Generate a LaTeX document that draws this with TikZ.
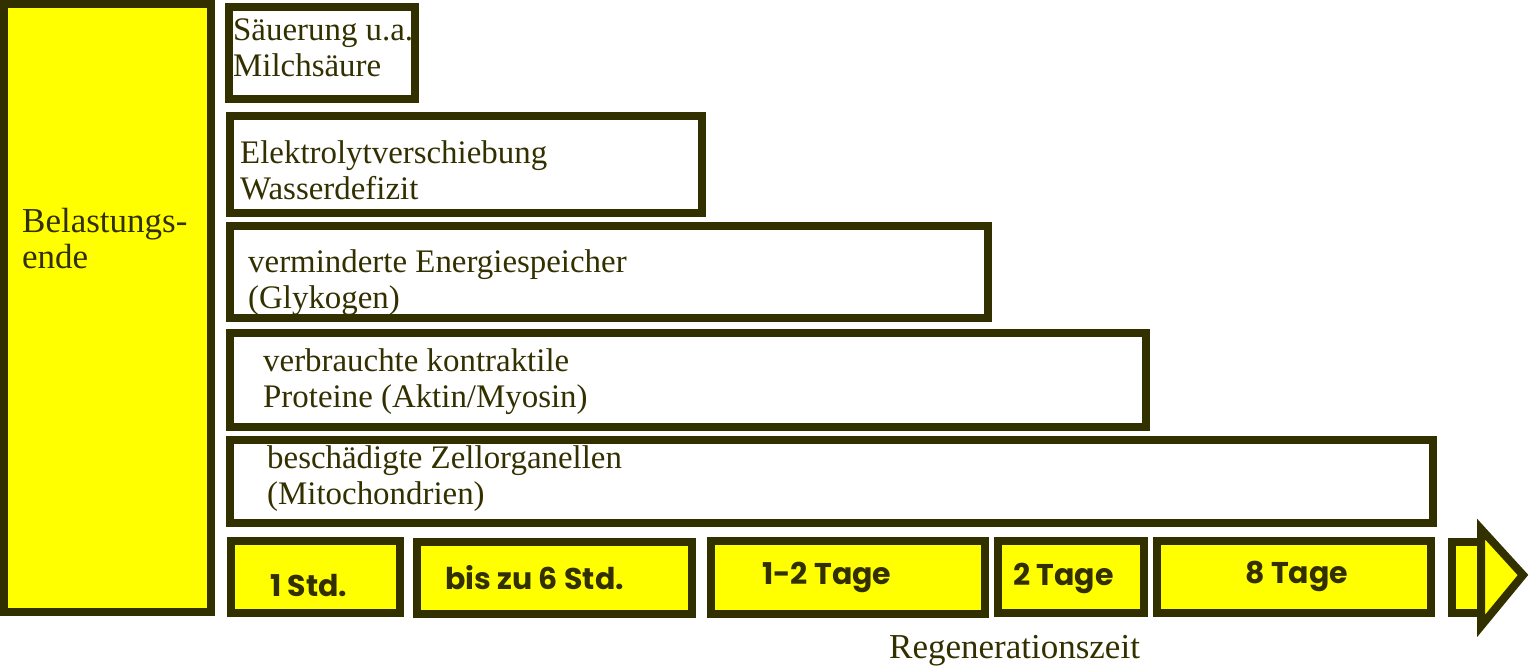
\documentclass[tikz,border=0pt]{standalone}
\usepackage{fontspec}
\setmainfont{Liberation Serif}
\newfontfamily\tagfont{Poppins}
\usepackage{tikz}
\definecolor{olive}{RGB}{51,48,0}
\definecolor{gelb}{RGB}{255,255,0}

\begin{document}
\begin{tikzpicture}[x=1pt,y=-1pt,line join=miter,
	box/.style={draw=olive,line width=8pt,fill=white,inner sep=0,outer sep=0},
	gelbbox/.style={box,fill=gelb},
	txt/.style={anchor=base west,inner sep=0,align=left,text=olive,font=\fontsize{32.9}{36}\selectfont},
	groesser/.style={txt,font=\fontsize{35}{36}\selectfont},
	tag/.style={anchor=base west,inner sep=0,text=olive,font=\tagfont\bfseries\fontsize{30}{32}\selectfont}]
	\useasboundingbox (0,0) rectangle (1529,667);
	\node[gelbbox,minimum width=207,minimum height=608] (ende) at (107.5,308) {};
	\node[box,minimum width=186,minimum height=92] (saeure) at (322,53) {};
	\node[box,minimum width=472,minimum height=97] (elektro) at (466,164.5) {};
	\node[box,minimum width=758,minimum height=92] (energie) at (609,272) {};
	\node[box,minimum width=916,minimum height=94] (protein) at (688,380) {};
	\node[box,minimum width=1203,minimum height=83] (zell) at (831.5,481.5) {};
	\node[gelbbox,minimum width=169,minimum height=72] (t1) at (315.5,577) {};
	\node[gelbbox,minimum width=275,minimum height=72] (t2) at (554.5,578) {};
	\node[gelbbox,minimum width=274,minimum height=73] (t3) at (848,577.5) {};
	\node[gelbbox,minimum width=146,minimum height=72] (t4) at (1071,577) {};
	\node[gelbbox,minimum width=274,minimum height=72] (t5) at (1294,577) {};
	\node[gelbbox,minimum width=29,minimum height=71] (schaft) at (1466.5,577.5) {};
	\draw[draw=olive,fill=gelb,line width=8pt] (1481,529) -- (1523,575) -- (1481,626) -- cycle;
	% Texte: Anker auf der Grundlinie der letzten Zeile
	\node[groesser] (ende-txt) at (22,268) {Belastungs-\\ende};
	\node[txt] (saeure-txt) at (233,76) {Säuerung u.a.\\Milchsäure};
	\node[txt] (elektro-txt) at (240,199) {Elektrolytverschiebung\\Wasserdefizit};
	\node[txt] (energie-txt) at (248,308) {verminderte Energiespeicher\\(Glykogen)};
	\node[txt] (protein-txt) at (263,407) {verbrauchte kontraktile\\Proteine (Aktin/Myosin)};
	\node[txt] (zell-txt) at (267,504) {beschädigte Zellorganellen\\(Mitochondrien)};
	\node[tag] (t1-txt) at (270,596) {1 Std.};
	\node[tag] (t2-txt) at (445,589) {bis zu 6 Std.};
	\node[tag] (t3-txt) at (762,584) {1-2 Tage};
	\node[tag] (t4-txt) at (1013,585) {2 Tage};
	\node[tag] (t5-txt) at (1245,583) {8 Tage};
	\node[groesser] (regen) at (889,658) {Regenerationszeit};
\end{tikzpicture}
\end{document}
